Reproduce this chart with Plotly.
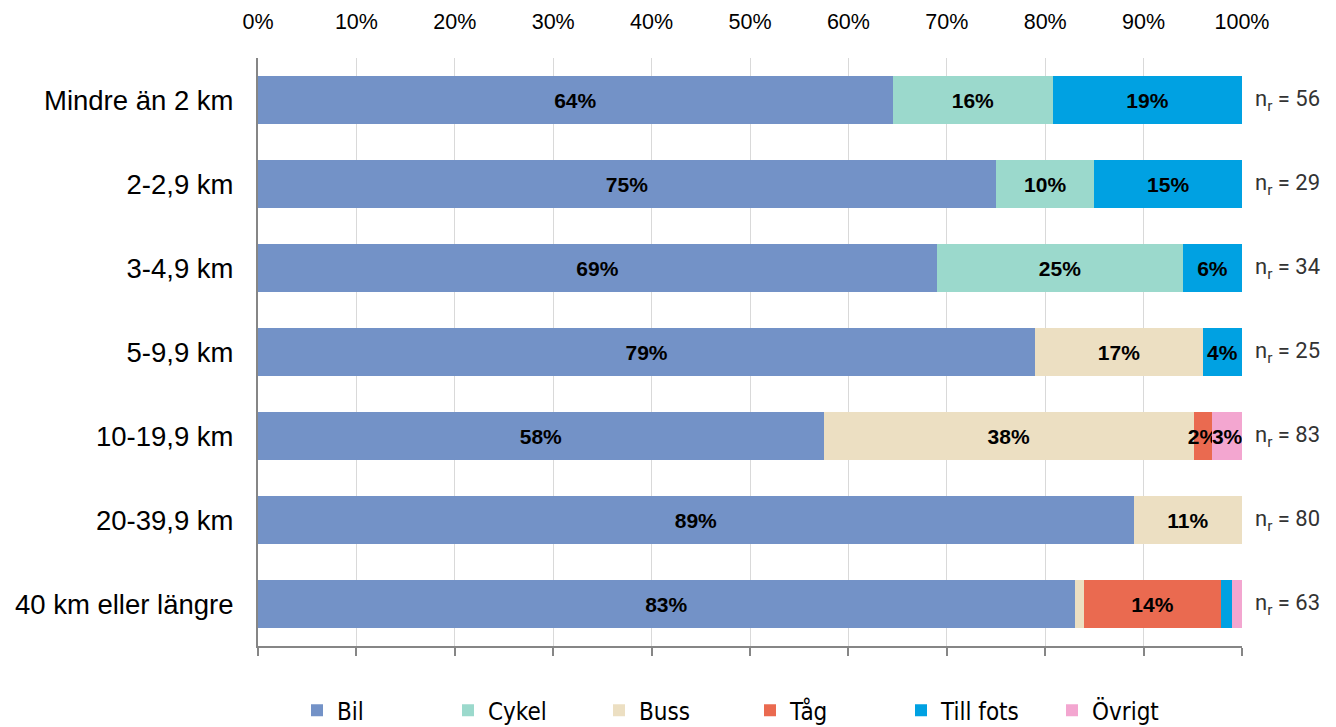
import plotly.graph_objects as go

categories = ["Mindre än 2 km", "2-2,9 km", "3-4,9 km", "5-9,9 km",
              "10-19,9 km", "20-39,9 km", "40 km eller längre"]
n_r = [56, 29, 34, 25, 83, 80, 63]

bil = [64.5, 75.0, 69.0, 79.0, 57.5, 89.0, 83.0]
cykel = [16.3, 10.0, 25.0, 0, 0, 0, 0]
buss = [0, 0, 0, 17.0, 37.6, 11.0, 0.9]
tag = [0, 0, 0, 0, 1.9, 0, 14.0]
till_fots = [19.2, 15.0, 6.0, 4.0, 0, 0, 1.1]
ovrigt = [0, 0, 0, 0, 3.0, 0, 1.0]

series = [
    ("Bil", bil, "#7392c7"),
    ("Cykel", cykel, "#9bd9cc"),
    ("Buss", buss, "#ecdfc2"),
    ("Tåg", tag, "#ea6a50"),
    ("Till fots", till_fots, "#00a1e2"),
    ("Övrigt", ovrigt, "#f3a6d0"),
]

fig = go.Figure()
for name, vals, color in series:
    xs = [v if v > 0 else None for v in vals]
    texts = [f"{v:.0f}%" if v >= 1.5 else " " for v in vals]
    fig.add_trace(go.Bar(
        y=categories, x=xs, name=name, orientation="h",
        marker=dict(color=color, line=dict(width=0)),
        text=texts, textposition="inside", insidetextanchor="middle",
        textangle=0, constraintext="none",
        textfont=dict(family="Liberation Sans", size=21, color="black", weight="bold"),
        hoverinfo="skip",
    ))

# invisible trace carrying the bottom axis
fig.add_trace(go.Scatter(x=[0, 100], y=[categories[0], categories[0]], xaxis="x2",
                         mode="markers", marker=dict(opacity=0), showlegend=False,
                         hoverinfo="skip"))

for cat, n in zip(categories, n_r):
    fig.add_annotation(x=1, xref="paper", y=cat, yref="y", xanchor="left",
                       xshift=11, text=f"n<sub>r</sub> = {n}", showarrow=False,
                       font=dict(family="Roboto", size=22, color="#333333"))

ticks = list(range(0, 101, 10))
fig.update_layout(
    barmode="stack",
    bargap=0.43,
    width=1328, height=719,
    margin=dict(l=250, r=94, t=50, b=81, autoexpand=False),
    plot_bgcolor="white", paper_bgcolor="white",
    uniformtext=dict(minsize=21, mode="show"),
    xaxis=dict(range=[0, 100], side="top", tickvals=ticks,
               ticktext=[f"{v}%" for v in ticks],
               showgrid=True, gridcolor="#d9d9d9", gridwidth=1,
               zeroline=False, showline=False, ticks="",
               ticklabelstandoff=24,
               tickfont=dict(family="Liberation Sans", size=21.5, color="black")),
    xaxis2=dict(range=[0, 100], overlaying="x", side="bottom",
                tickvals=ticks, showticklabels=False,
                showgrid=False, zeroline=False, showline=True,
                linecolor="#868686", linewidth=2, ticks="outside", ticklen=8,
                tickcolor="#868686", tickwidth=2),
    yaxis=dict(autorange="reversed", showline=True, linecolor="#868686",
               linewidth=2, ticks="", ticklabelstandoff=17,
               tickfont=dict(family="Liberation Sans", size=27.5, color="black")),
    legend=dict(orientation="h", x=0.5, xanchor="center", y=-0.11, yanchor="middle",
                entrywidth=106, traceorder="normal",
                font=dict(family="Liberation Sans Narrow, DejaVu Sans Condensed, Liberation Sans",
                          size=24, color="black")),
)

fig.write_html("out.html")
